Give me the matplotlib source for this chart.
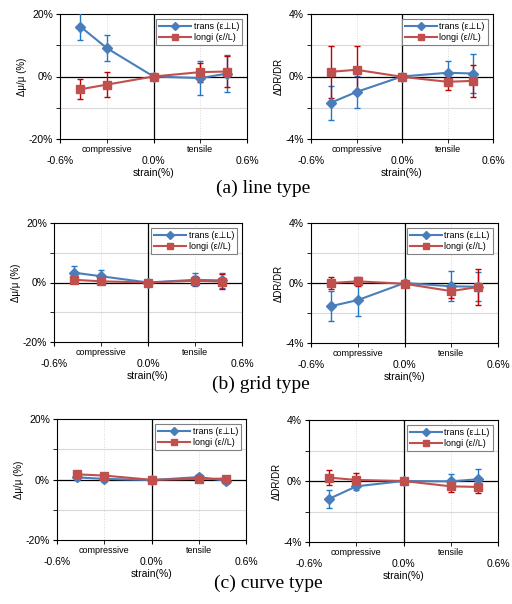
import numpy as np
import matplotlib.pyplot as plt
from matplotlib.ticker import FixedLocator, FixedFormatter
from matplotlib.lines import Line2D

# strain positions (%)
strain = [-0.47, -0.3, 0.0, 0.3, 0.47]

# (a) line type
a_mu_trans = [16.0, 9.1, 0.0, -0.5, 0.9]
a_mu_trans_err = [4.2, 4.2, 0.0, 5.5, 6.0]
a_mu_longi = [-4.1, -2.6, 0.0, 1.4, 1.6]
a_mu_longi_err = [3.2, 4.1, 0.0, 3.0, 5.0]
a_dr_trans = [-1.68, -0.99, 0.0, 0.24, 0.19]
a_dr_trans_err = [1.1, 1.0, 0.0, 0.78, 1.23]
a_dr_longi = [0.30, 0.43, -0.02, -0.34, -0.28]
a_dr_longi_err = [1.65, 1.5, 0.0, 0.5, 1.04]

# (b) grid type
b_mu_trans = [3.3, 2.1, 0.0, 0.9, 0.7]
b_mu_trans_err = [2.4, 2.2, 0.0, 2.2, 2.5]
b_mu_longi = [0.9, 0.4, 0.0, 0.6, 0.3]
b_mu_longi_err = [1.0, 0.8, 0.0, 1.5, 2.5]
b_dr_trans = [-1.54, -1.14, 0.0, -0.22, -0.25]
b_dr_trans_err = [1.0, 1.05, 0.0, 1.0, 0.97]
b_dr_longi = [0.0, 0.11, -0.05, -0.54, -0.27]
b_dr_longi_err = [0.4, 0.32, 0.0, 0.48, 1.2]

# (c) curve type
c_mu_trans = [0.7, 0.2, -0.2, 0.8, -0.4]
c_mu_trans_err = [1.0, 1.0, 0.0, 1.0, 1.0]
c_mu_longi = [1.7, 1.3, -0.1, 0.2, 0.3]
c_mu_longi_err = [0.8, 0.8, 0.0, 0.8, 0.8]
c_dr_trans = [-1.16, -0.35, 0.0, -0.02, 0.11]
c_dr_trans_err = [0.6, 0.27, 0.0, 0.45, 0.65]
c_dr_longi = [0.22, 0.07, 0.0, -0.35, -0.39]
c_dr_longi_err = [0.47, 0.48, 0.0, 0.4, 0.39]

captions = ['(a) line type', '(b) grid type', '(c) curve type']

W, H = 512, 604
fig = plt.figure(figsize=(W / 100, H / 100), dpi=100)
plt.rcParams['font.family'] = ['Liberation Sans', 'DejaVu Sans']

blue, blue_err = '#4a7ebb', '#1f78c8'
red, red_err = '#c0504d', '#c00000'


def rect(l, t, r, b):
    return [l / W, 1 - b / H, (r - l) / W, (b - t) / H]


def panel(pos, trans, terr, longi, lerr, lim, ylabel):
    ax = fig.add_axes(rect(*pos))
    ax.set_xlim(-0.6, 0.6)
    ax.set_ylim(-lim, lim)
    # grid
    for y in [-lim / 2, lim / 2]:
        ax.axhline(y, color='#d9d9d9', lw=0.8, zorder=0)
    for x in [-0.3, 0.3]:
        ax.axvline(x, color='#d9d9d9', lw=0.7, ls=':', zorder=0)
    ax.axhline(0, color='black', lw=0.9, zorder=1)
    ax.axvline(0, color='black', lw=0.9, zorder=1)

    ax.errorbar(strain, trans, yerr=terr, color=blue, ecolor=blue_err,
                marker='D', ms=5.5, lw=1.5, elinewidth=1, capsize=2.5, zorder=3)
    ax.errorbar(strain, longi, yerr=lerr, color=red, ecolor=red_err,
                marker='s', ms=6, lw=1.5, elinewidth=1, capsize=2.5, zorder=3)

    ax.set_xticks([-0.6, 0.0, 0.6])
    ax.set_xticklabels(['-0.6%', '0.0%', '0.6%'], fontsize=7.5)
    ax.xaxis.set_minor_locator(FixedLocator([-0.3, 0.3]))
    ax.xaxis.set_minor_formatter(FixedFormatter(['compressive', 'tensile']))
    ax.tick_params(axis='x', which='minor', labelsize=6.5, pad=1, length=3)
    ax.tick_params(axis='x', which='major', pad=9, length=3)
    ax.set_yticks([-lim, 0, lim])
    ax.set_yticklabels(['%d%%' % -lim, '0%', '%d%%' % lim], fontsize=7.5)
    ax.yaxis.set_minor_locator(FixedLocator([-lim / 2, lim / 2]))
    ax.tick_params(axis='y', which='both', length=3, pad=2)
    ax.set_xlabel('strain(%)', fontsize=7.5, labelpad=2)
    ax.set_ylabel(ylabel, fontsize=7, labelpad=1)

    handles = [Line2D([], [], color=blue, marker='D', ms=4, lw=1.5),
               Line2D([], [], color=red, marker='s', ms=5, lw=1.5)]
    leg = ax.legend(handles, ['trans (ε\u22a5L)', 'longi (ε//L)'],
                    loc='upper right', fontsize=6.5, fancybox=False,
                    edgecolor='#808080', framealpha=1, handlelength=3.5,
                    borderpad=0.3, labelspacing=0.25, handletextpad=0.3,
                    borderaxespad=0.6)
    leg.get_frame().set_linewidth(0.8)
    return ax


panel((60, 14, 247, 139), a_mu_trans, a_mu_trans_err, a_mu_longi, a_mu_longi_err, 20, 'Δμ/μ (%)')
panel((311, 14, 493, 139), a_dr_trans, a_dr_trans_err, a_dr_longi, a_dr_longi_err, 4, 'ΔDR/DR')
panel((54, 223, 242, 342), b_mu_trans, b_mu_trans_err, b_mu_longi, b_mu_longi_err, 20, 'Δμ/μ (%)')
panel((311, 223, 498, 343), b_dr_trans, b_dr_trans_err, b_dr_longi, b_dr_longi_err, 4, 'ΔDR/DR')
panel((57, 419, 246, 540), c_mu_trans, c_mu_trans_err, c_mu_longi, c_mu_longi_err, 20, 'Δμ/μ (%)')
panel((309, 420, 498, 542), c_dr_trans, c_dr_trans_err, c_dr_longi, c_dr_longi_err, 4, 'ΔDR/DR')

for cap, yc, xc in zip(captions, [188, 384, 583], [263, 261, 268]):
    fig.text(xc / W, 1 - yc / H, cap, ha='center', va='center',
             fontsize=14, family='Liberation Serif')

fig.savefig('out.png', dpi=100)
